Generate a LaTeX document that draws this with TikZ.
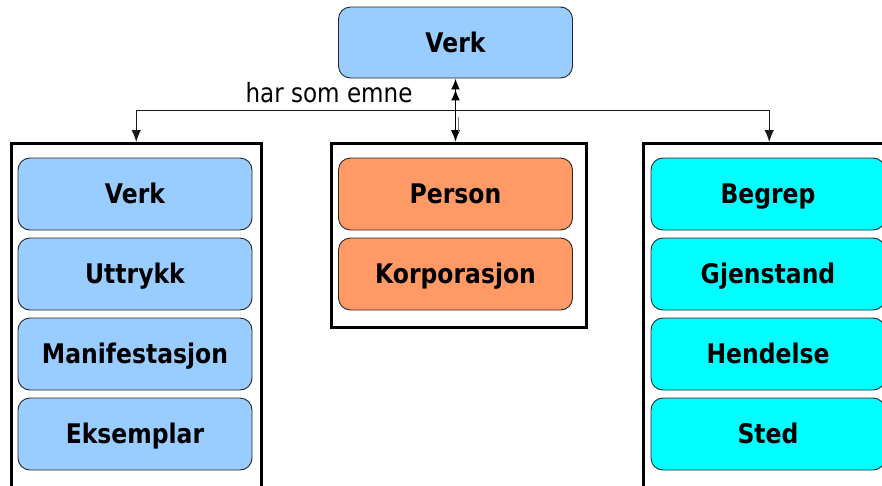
\documentclass[tikz,border=0pt]{standalone}
\usepackage{fontspec}
\setmainfont{DejaVu Sans}[FakeStretch=0.87]
\usetikzlibrary{arrows.meta}
\definecolor{lblue}{HTML}{99CCFF}
\definecolor{lorange}{HTML}{FF9966}
\definecolor{lcyan}{HTML}{00FFFF}
\tikzset{
  entity/.style={draw=black!85, line width=0.9pt, rounded corners=12pt,
    minimum width=234pt, minimum height=72pt, inner sep=0pt,
    text height=19.5pt, text depth=0pt,
    font=\fontsize{27}{30}\selectfont\bfseries},
  grpbox/.style={draw=black, line width=2.5pt, inner sep=0pt, anchor=north west},
  arr/.style={-{Latex[length=12pt,width=9.5pt]}},
  conn/.style={line width=1pt, draw=black!90},
}
\begin{document}
\begin{tikzpicture}[x=1pt,y=-1pt]
\useasboundingbox (0,0) rectangle (882,485);
\clip (0,0) rectangle (882,485);

% top node
\node[entity, fill=lblue, minimum width=234pt, minimum height=71pt] (top) at (455.5,42.5) {Verk};

% group frames
\node[grpbox, minimum width=250pt, minimum height=380pt] (gl) at (10,142) {};
\node[grpbox, minimum width=255pt, minimum height=184pt] (gc) at (330,142) {};
\node[grpbox, minimum width=252pt, minimum height=380pt] (gr) at (642,142) {};

% left column
\node[entity, fill=lblue] (l1) at (135,194) {Verk};
\node[entity, fill=lblue] (l2) at (135,274) {Uttrykk};
\node[entity, fill=lblue] (l3) at (135,354) {Manifestasjon};
\node[entity, fill=lblue] (l4) at (135,434) {Eksemplar};

% center column
\node[entity, fill=lorange] (c1) at (455.5,194) {Person};
\node[entity, fill=lorange] (c2) at (455.5,274) {Korporasjon};

% right column
\node[entity, fill=lcyan] (r1) at (768,194) {Begrep};
\node[entity, fill=lcyan] (r2) at (768,274) {Gjenstand};
\node[entity, fill=lcyan] (r3) at (768,354) {Hendelse};
\node[entity, fill=lcyan] (r4) at (768,434) {Sted};

% connectors
\coordinate (hub) at (455.5,110);
\coordinate (gtop) at (455.5,142);
\draw[conn, arr] (hub) -| (gl.north);
\draw[conn, arr] (hub) -| (gr.north);
\draw[line width=1.8pt, {Latex[length=11pt,width=9pt]Latex[length=11pt,width=9pt]}-{Latex[length=12pt,width=9.5pt]}] (top.south) -- (gtop);
\coordinate (ga) at (458.5,117);
\coordinate (gb) at (458.5,132);
\draw[line width=0.8pt, draw=black!55] (ga) -- (gb);

\node[font=\fontsize{26.5}{30}\selectfont] (lab) at (329,93) {har som emne};
\end{tikzpicture}
\end{document}
